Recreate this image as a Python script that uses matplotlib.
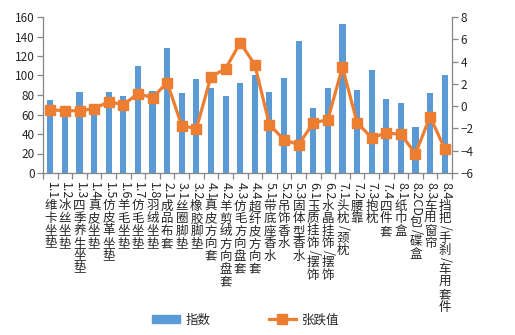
import matplotlib
matplotlib.use('Agg')
import matplotlib.pyplot as plt
from matplotlib.patches import Patch
from matplotlib.lines import Line2D
from matplotlib.textpath import TextPath
from matplotlib.font_manager import FontProperties

plt.rcParams['font.family'] = ['Noto Sans CJK SC', 'DejaVu Sans']

categories = ['1.1维卡坐垫', '1.2冰丝坐垫', '1.3四季养生坐垫', '1.4真皮坐垫', '1.5仿皮革坐垫',
              '1.6羊毛坐垫', '1.7仿毛坐垫', '1.8羽绒坐垫', '2.1成品布套', '3.1丝圈脚垫',
              '3.2橡胶脚垫', '4.1真皮方向套', '4.2羊剪绒方向盘套', '4.3仿毛方向盘套', '4.4超纤皮方向套',
              '5.1带底座香水', '5.2吊饰香水', '5.3固体型香水', '6.1玉质挂饰/摆饰', '6.2水晶挂饰/摆饰',
              '7.1头枕/颈枕', '7.2腰靠', '7.3抱枕', '7.4四件套', '8.1纸巾盒',
              '8.2CD包/碟盒', '8.3车用窗帘', '8.4挡把/手刹/车用套件']
index_values = [75, 62, 83, 62, 83, 79, 110, 84, 128, 82,
                96, 87, 79, 92, 101, 83, 97, 135, 67, 87,
                153, 85, 106, 76, 72, 47, 82, 101]
change_values = [-0.32, -0.41, -0.41, -0.23, 0.40, 0.13, 1.12, 0.76, 2.11, -1.75,
                 -2.02, 2.65, 3.36, 5.70, 3.72, -1.66, -3.01, -3.46, -1.51, -1.21,
                 3.51, -1.48, -2.83, -2.41, -2.53, -4.26, -0.94, -3.82]
legend_labels = ['指数', '张跌值']

BLUE = '#5B9BD5'
ORANGE = '#ED7D31'
GRAY = '#868686'
TXT = '#262626'

fig = plt.figure(figsize=(5.15, 3.35), dpi=100)
ax = fig.add_axes([43 / 515, 1 - 173 / 335, 409 / 515, 156 / 335])
ax2 = ax.twinx()

x = list(range(len(categories)))
ax.bar(x, index_values, width=0.42, color=BLUE, zorder=2)
ax2.plot(x, change_values, color=ORANGE, lw=2.3, marker='s', ms=7, zorder=3)

ax.set_xlim(-0.5, len(categories) - 0.5)
ax.set_ylim(0, 160)
ax.set_yticks(range(0, 161, 20))
ax2.set_ylim(-6, 8)
ax2.set_yticks(range(-6, 9, 2))
ax.set_xticks([i - 0.5 for i in range(len(categories) + 1)])
ax.set_xticklabels([])

for a in (ax, ax2):
    a.spines['top'].set_visible(False)
    for s in a.spines.values():
        s.set_color(GRAY)
        s.set_linewidth(0.9)
ax.spines['right'].set_visible(False)
ax2.spines['left'].set_visible(False)
ax2.spines['bottom'].set_visible(False)
ax.tick_params(axis='both', direction='out', length=4, width=0.9, color=GRAY,
               labelsize=8.5, labelcolor=TXT, pad=2)
ax2.tick_params(axis='y', direction='out', length=4, width=0.9, color=GRAY,
                labelsize=8.5, labelcolor=TXT, pad=2)

# vertical (East Asian style) category labels
fs = 9
fp = FontProperties(family='Noto Sans CJK SC', size=fs)
cjk_adv = 9.0  # points per stacked character


def split_runs(s):
    out, buf = [], ''
    for ch in s:
        if ord(ch) < 128:
            buf += ch
        else:
            if buf:
                out.append(('a', buf))
                buf = ''
            out.append(('c', ch))
    if buf:
        out.append(('a', buf))
    return out


for i, lab in enumerate(categories):
    cursor = 6.3
    for kind, s in split_runs(lab):
        if kind == 'a':
            ax.annotate(s, xy=(i, 0), xycoords=('data', 'axes fraction'),
                        xytext=(0.5, -cursor), textcoords='offset points',
                        rotation=270, ha='center', va='top', fontsize=fs,
                        color=TXT, annotation_clip=False)
            w = TextPath((0, 0), s, size=fs, prop=fp).get_extents().width
            cursor += w + 1.5
        else:
            ax.annotate(s, xy=(i, 0), xycoords=('data', 'axes fraction'),
                        xytext=(0, -(cursor + cjk_adv / 2)), textcoords='offset points',
                        ha='center', va='center', fontsize=fs,
                        color=TXT, annotation_clip=False)
            cursor += cjk_adv

handles = [Patch(color=BLUE),
           Line2D([], [], color=ORANGE, lw=2.3, marker='s', ms=7)]
fig.legend(handles=handles, labels=legend_labels, loc='center',
           bbox_to_anchor=(246 / 515, 1 - 320 / 335), ncol=2, frameon=False,
           fontsize=9, handlelength=2.2, handleheight=0.65, columnspacing=4.6,
           handletextpad=0.5, labelcolor=TXT)

fig.savefig('out.png', dpi=100)
